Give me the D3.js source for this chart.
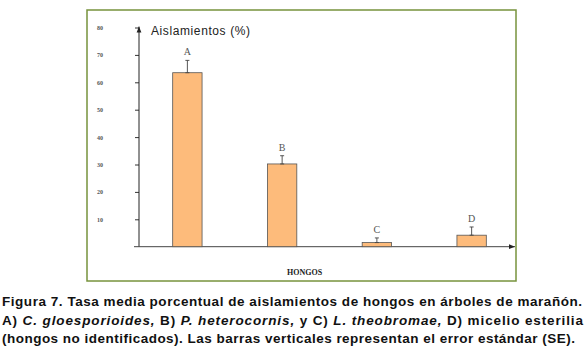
<!DOCTYPE html>
<html><head><meta charset="utf-8">
<script src="https://cdn.jsdelivr.net/npm/d3@7"></script>
<style>body{margin:0;background:#fff}svg{display:block}</style>
</head><body>
<script>
const categories = ["A","B","C","D"];
const means = [63.5, 30.2, 1.5, 4.2];
const errors = [4.5, 3.0, 1.7, 3.0];
const yTicks = [10,20,30,40,50,60,70,80];

const W=585,H=358;
const svg=d3.select("body").append("svg").attr("width",W).attr("height",H);

// frame
svg.append("rect").attr("x",87).attr("y",10).attr("width",429).attr("height",271)
  .attr("fill","none").attr("stroke","#77933C").attr("stroke-width",1.5);

const y=d3.scaleLinear().domain([0,80]).range([246.7,27.5]);
const x=d3.scaleBand().domain(categories).range([140,519]).paddingInner(0.69).paddingOuter(0.345);
const ax=139;

svg.append("defs").append("marker").attr("id","arr").attr("viewBox","0 0 10 10")
 .attr("refX",10).attr("refY",5).attr("markerWidth",6).attr("markerHeight",6).attr("orient","auto")
 .append("path").attr("d","M0,1L10,5L0,9z").attr("fill","#222");

// y axis
const yAxis=d3.axisLeft(y).tickValues(yTicks).tickSize(4).tickFormat(d3.format("d"));
const gy=svg.append("g").attr("transform",`translate(${ax},0)`).call(yAxis);
gy.select(".domain").remove();
gy.selectAll(".tick line").attr("stroke","#333");
gy.selectAll(".tick text").attr("x",-39).attr("text-anchor","middle")
  .attr("font-family","Liberation Serif").attr("font-size",6).attr("font-weight","bold").attr("fill","#555");
svg.append("line").attr("x1",ax).attr("x2",ax).attr("y1",y(0)).attr("y2",y(80)-1)
  .attr("stroke","#222").attr("stroke-width",1).attr("marker-end","url(#arr)");
svg.append("line").attr("x1",134).attr("x2",515).attr("y1",y(0)).attr("y2",y(0))
  .attr("stroke","#444").attr("stroke-width",1).attr("marker-end","url(#arr)");

// bars
const data=categories.map((c,i)=>({c,m:means[i],e:errors[i]}));
svg.selectAll("rect.bar").data(data).enter().append("rect").attr("class","bar")
  .attr("x",d=>x(d.c)).attr("width",x.bandwidth())
  .attr("y",d=>y(d.m)).attr("height",d=>y(0)-y(d.m))
  .attr("fill","#FDBB7B").attr("stroke","#555").attr("stroke-width",0.8);

// error bars
const eg=svg.selectAll("g.err").data(data).enter().append("g").attr("stroke","#444").attr("stroke-width",0.9);
eg.append("line").attr("x1",d=>x(d.c)+x.bandwidth()/2).attr("x2",d=>x(d.c)+x.bandwidth()/2)
  .attr("y1",d=>y(d.m)).attr("y2",d=>y(d.m+d.e));
eg.append("line").attr("x1",d=>x(d.c)+x.bandwidth()/2-2).attr("x2",d=>x(d.c)+x.bandwidth()/2+2)
  .attr("y1",d=>y(d.m+d.e)).attr("y2",d=>y(d.m+d.e));
eg.append("line").attr("x1",d=>x(d.c)+x.bandwidth()/2-2).attr("x2",d=>x(d.c)+x.bandwidth()/2+2)
  .attr("y1",d=>y(d.m)).attr("y2",d=>y(d.m));

// letters
svg.selectAll("text.lab").data(data).enter().append("text").attr("class","lab")
  .attr("x",d=>x(d.c)+x.bandwidth()/2).attr("y",d=>y(d.m+d.e)-5)
  .attr("text-anchor","middle").attr("font-family","Liberation Serif").attr("font-size",10)
  .attr("fill","#555").text(d=>d.c);

svg.append("text").attr("x",151).attr("y",35).attr("font-family","Liberation Sans")
  .attr("font-size",12).attr("fill","#222").attr("textLength",99).attr("lengthAdjust","spacing")
  .text("Aislamientos (%)");
svg.append("text").attr("x",287).attr("y",275).attr("font-family","Liberation Serif")
  .attr("font-size",8).attr("font-weight","bold").attr("fill","#222").text("HONGOS");

// caption
const cap=svg.append("g").attr("font-family","Liberation Sans").attr("font-weight","bold")
  .attr("font-size",13.5).attr("fill","#111");
cap.append("text").attr("x",2).attr("y",305.5).attr("textLength",580).attr("lengthAdjust","spacing")
  .text("Figura 7. Tasa media porcentual de aislamientos de hongos en árboles de marañón.");
const l2=cap.append("text").attr("x",2).attr("y",324.5).attr("textLength",581).attr("lengthAdjust","spacing");
[["A) ",0],["C. gloesporioides,",1],[" B) ",0],["P. heterocornis,",1],[" y C) ",0],["L. theobromae,",1],[" D) micelio esterilia",0]]
 .forEach(([t,it])=>l2.append("tspan").attr("font-style",it?"italic":"normal").text(t));
cap.append("text").attr("x",2).attr("y",343).attr("textLength",573).attr("lengthAdjust","spacing")
  .text("(hongos no identificados). Las barras verticales representan el error estándar (SE).");
</script>
</body></html>
